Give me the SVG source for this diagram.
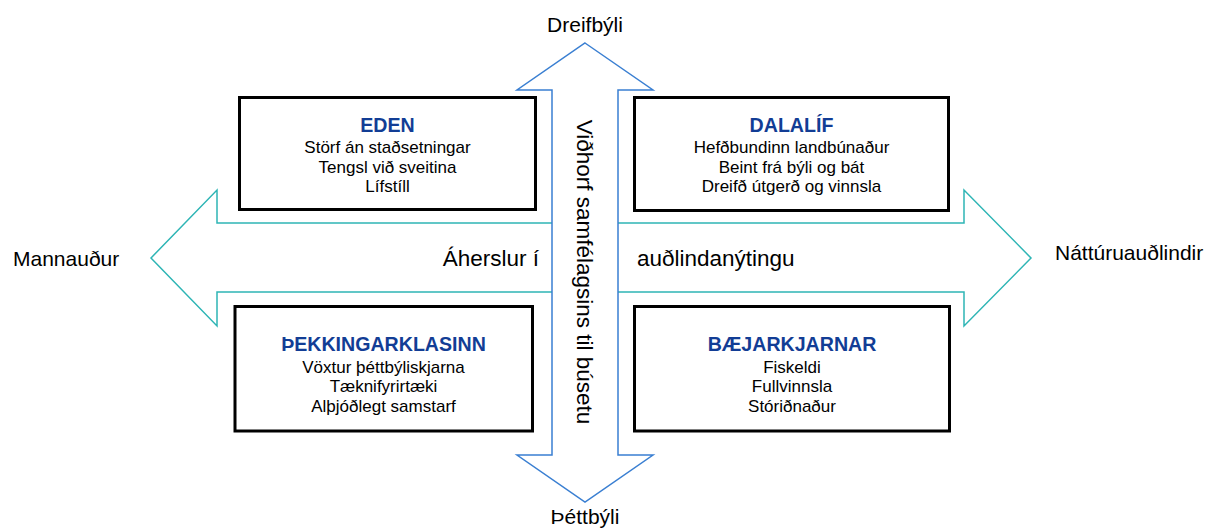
<svg xmlns="http://www.w3.org/2000/svg" width="1205" height="529" viewBox="0 0 1205 529">
  <style>
    text { font-family: "Liberation Sans", Arial, sans-serif; fill: #000; }
    .box { fill: #fff; stroke: #000; stroke-width: 3; }
    .title { font-size: 19.6px; font-weight: bold; fill: #123d95; text-anchor: middle; }
    .body { font-size: 17px; text-anchor: middle; }
    .axis { font-size: 21px; }
    .mid { font-size: 22.5px; }
    .harrow { fill: #fff; stroke: #2eb5b5; stroke-width: 1.5; stroke-linejoin: miter; }
    .varrow { fill: #fff; stroke: #3a7fd2; stroke-width: 1.5; stroke-linejoin: miter; }
  </style>

  <g id="connectors">
    <polygon id="arrow-horizontal" class="harrow" points="151,258 217,190 217,223 964,223 964,190 1031,258 964,326 964,292 217,292 217,326"/>
    <polygon id="arrow-vertical" class="varrow" points="585,43 653,90 618,90 618,455 653,455 585,502 517,455 552,455 552,90 517,90"/>
  </g>

  <g id="axis-labels">
    <text class="axis" x="585" y="32" text-anchor="middle">Dreifbýli</text>
    <text class="axis" x="585" y="524" text-anchor="middle">Þéttbýli</text>
    <text class="axis" x="13" y="266">Mannauður</text>
    <text class="axis" x="1055" y="260">Náttúruauðlindir</text>
    <text class="mid" x="539" y="266" text-anchor="end">Áherslur í</text>
    <text class="mid" x="637" y="266">auðlindanýtingu</text>
    <text class="mid" transform="translate(577,272) rotate(90)" text-anchor="middle">Viðhorf samfélagsins til búsetu</text>
  </g>

  <g id="node-eden">
    <rect class="box" x="239.5" y="97.5" width="296" height="112"/>
    <text class="title" x="387.5" y="132">EDEN</text>
    <text class="body" x="387.5" y="152.5">Störf án staðsetningar</text>
    <text class="body" x="387.5" y="172.5">Tengsl við sveitina</text>
    <text class="body" x="387.5" y="192">Lífstíll</text>
  </g>

  <g id="node-dalalif">
    <rect class="box" x="634.5" y="97.5" width="314" height="113"/>
    <text class="title" x="791.5" y="132">DALALÍF</text>
    <text class="body" x="791.5" y="152.5">Hefðbundinn landbúnaður</text>
    <text class="body" x="791.5" y="172.5">Beint frá býli og bát</text>
    <text class="body" x="791.5" y="192">Dreifð útgerð og vinnsla</text>
  </g>

  <g id="node-thekkingarklasinn">
    <rect class="box" x="235" y="306.5" width="297.5" height="124.5"/>
    <text class="title" x="383.5" y="351">ÞEKKINGARKLASINN</text>
    <text class="body" x="383.5" y="372.5">Vöxtur þéttbýliskjarna</text>
    <text class="body" x="383.5" y="392">Tæknifyrirtæki</text>
    <text class="body" x="383.5" y="411.5">Alþjóðlegt samstarf</text>
  </g>

  <g id="node-baejarkjarnar">
    <rect class="box" x="634.5" y="306.5" width="315" height="124.5"/>
    <text class="title" x="792" y="351">BÆJARKJARNAR</text>
    <text class="body" x="792" y="372.5">Fiskeldi</text>
    <text class="body" x="792" y="392">Fullvinnsla</text>
    <text class="body" x="792" y="411.5">Stóriðnaður</text>
  </g>
</svg>
